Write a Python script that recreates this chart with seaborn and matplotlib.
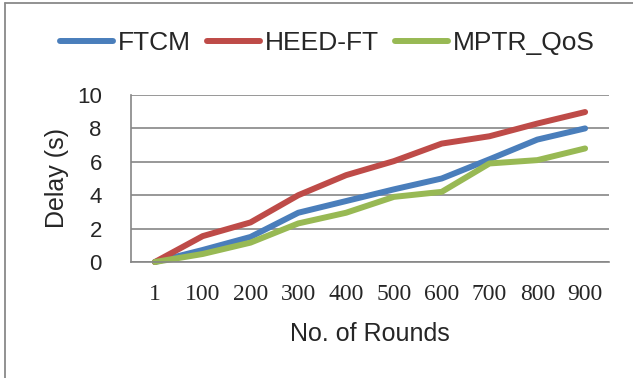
import matplotlib
matplotlib.use("Agg")
import matplotlib.pyplot as plt
from matplotlib.lines import Line2D
from matplotlib.ticker import FixedLocator
import seaborn as sns
import pandas as pd

rounds = ["1", "100", "200", "300", "400", "500", "600", "700", "800", "900"]
ftcm = [0, 0.72, 1.5, 2.95, 3.65, 4.35, 5.0, 6.15, 7.33, 8.0]
heed_ft = [0, 1.55, 2.37, 4.0, 5.2, 6.04, 7.09, 7.53, 8.29, 8.98]
mptr_qos = [0, 0.48, 1.16, 2.31, 2.95, 3.9, 4.2, 5.9, 6.1, 6.8]
series_names = ["FTCM", "HEED-FT", "MPTR_QoS"]
colors = ["#4A7EBB", "#BE4B48", "#98B954"]

rows = []
for name, vals in zip(series_names, [ftcm, heed_ft, mptr_qos]):
    for r, v in zip(rounds, vals):
        rows.append({"Rounds": r, "Delay": v, "Series": name})
df = pd.DataFrame(rows)

sns.set_style("white")
plt.rcParams["font.family"] = ["Liberation Sans", "DejaVu Sans"]

fig = plt.figure(figsize=(6.33, 3.78), dpi=100)
ax = fig.add_axes([131/633, 1 - 262/378, (609 - 131)/633, (262 - 95)/378])

sns.lineplot(data=df, x="Rounds", y="Delay", hue="Series", palette=colors,
             sort=False, ax=ax, linewidth=4.3, solid_capstyle="round",
             legend=True)
for ln in ax.lines:
    ln.set_clip_on(False)

ax.set_xlim(-0.5, len(rounds) - 0.5)
ax.set_ylim(0, 10)
ax.set_yticks([0, 2, 4, 6, 8, 10])
ax.yaxis.grid(True, color="#868686", linewidth=1.2)
ax.set_axisbelow(True)
for s in ["top", "right"]:
    ax.spines[s].set_visible(False)
for s in ["left", "bottom"]:
    ax.spines[s].set_color("#868686")
    ax.spines[s].set_linewidth(1.2)

ax.set_xticks(range(len(rounds)))
ax.set_xticklabels(rounds, fontfamily="Liberation Serif", fontsize=17)
ax.xaxis.set_minor_locator(FixedLocator([i - 0.5 for i in range(len(rounds) + 1)]))
ax.tick_params(axis="x", which="major", length=0, pad=16)
ax.tick_params(axis="x", which="minor", length=6, width=1.2, color="#868686", direction="out")
ax.tick_params(axis="y", which="major", length=8, width=1.2, color="#868686",
               direction="out", labelsize=16, pad=13)

ax.set_xlabel("No. of Rounds", fontsize=18, labelpad=12)
ax.set_ylabel("Delay (s)", fontsize=18, labelpad=6)

handles, labels = ax.get_legend_handles_labels()
ax.legend_.remove()
fig.legend(handles, labels, loc="center", bbox_to_anchor=(0.517, 1 - 43/378),
           ncol=3, frameon=False, fontsize=19, handlelength=2.0,
           handletextpad=0.2, columnspacing=0.6, borderpad=0)
for h in fig.legends[0].legend_handles:
    h.set_linewidth(4.3)
    h.set_solid_capstyle("round")

bx, by = 5/633, 1 - 3/378
fig.lines.append(Line2D([bx, bx], [0, by], transform=fig.transFigure,
                        color="#898989", linewidth=1.3))
fig.lines.append(Line2D([bx, 1], [by, by], transform=fig.transFigure,
                        color="#898989", linewidth=1.3))

fig.savefig("out.png", dpi=100)
